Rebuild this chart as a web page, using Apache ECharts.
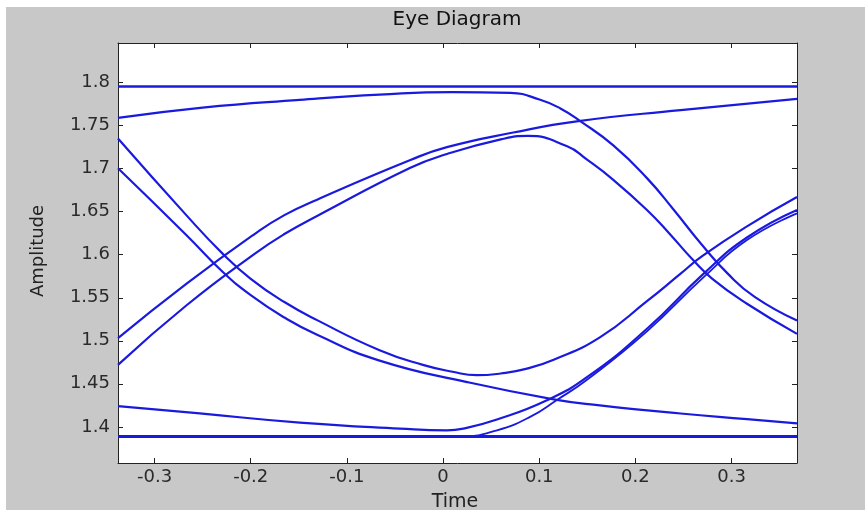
<!DOCTYPE html>
<html>
<head>
<meta charset="utf-8">
<script src="https://cdn.jsdelivr.net/npm/echarts@6/dist/echarts.min.js"></script>
<style>
  html, body { margin: 0; padding: 0; background: #ffffff; }
  #bg { position: absolute; left: 6px; top: 7px; width: 859px; height: 503px; background: #c8c8c8; }
  #chart { position: absolute; left: 0; top: 0; width: 865px; height: 512px; }
</style>
</head>
<body>
<div id="bg"></div>
<div id="chart"></div>
<script>
// ---- data ----
const titleText = 'Eye Diagram';
const xName = 'Time';
const yName = 'Amplitude';
const xTicks = [-0.3, -0.2, -0.1, 0, 0.1, 0.2, 0.3];
const yTicks = [1.4, 1.45, 1.5, 1.55, 1.6, 1.65, 1.7, 1.75, 1.8];
const xRange = [-0.338, 0.368];
const yRange = [1.358, 1.846];

// traces: [time, amplitude]
const topFlat = [[-0.338, 1.7955], [0.368, 1.7955]];
const bottomFlat = [[-0.338, 1.3888], [0.368, 1.3888]];
const highFall = [[-0.338, 1.759], [-0.25, 1.771], [-0.149, 1.780], [-0.066, 1.786], [0.01, 1.789], [0.070, 1.788],
  [0.101, 1.780], [0.122, 1.770], [0.143, 1.755], [0.177, 1.727], [0.212, 1.689], [0.240, 1.652],
  [0.268, 1.613], [0.296, 1.578], [0.324, 1.551], [0.368, 1.5235]];
const riseHigh = [[-0.338, 1.503], [-0.267, 1.566], [-0.196, 1.624], [-0.165, 1.646], [-0.131, 1.664],
  [-0.034, 1.710], [0.004, 1.725], [0.073, 1.742], [0.139, 1.755], [0.247, 1.768], [0.368, 1.781]];
const risePeak = [[-0.338, 1.472], [-0.267, 1.541], [-0.196, 1.601], [-0.165, 1.624], [-0.131, 1.645],
  [-0.034, 1.701], [0.004, 1.717], [0.060, 1.734], [0.088, 1.738], [0.129, 1.726], [0.149, 1.711],
  [0.177, 1.687], [0.212, 1.652], [0.235, 1.625], [0.259, 1.595], [0.280, 1.572], [0.316, 1.543], [0.368, 1.508]];
const fallTrough = [[-0.338, 1.735], [-0.267, 1.646], [-0.229, 1.601], [-0.200, 1.572], [-0.165, 1.545],
  [-0.131, 1.524], [-0.066, 1.489], [-0.021, 1.472], [0.010, 1.464], [0.035, 1.460], [0.060, 1.462],
  [0.085, 1.467], [0.115, 1.478], [0.163, 1.504], [0.212, 1.546], [0.247, 1.578], [0.269, 1.598],
  [0.316, 1.633], [0.368, 1.667]];
const fallLow = [[-0.338, 1.7005], [-0.267, 1.623], [-0.229, 1.580], [-0.200, 1.553], [-0.165, 1.527],
  [-0.131, 1.507], [-0.066, 1.477], [0.025, 1.452], [0.115, 1.432], [0.163, 1.425], [0.247, 1.4155],
  [0.316, 1.409], [0.368, 1.404]];
const lowRise = [[-0.338, 1.424], [-0.253, 1.4156], [-0.149, 1.405], [-0.045, 1.398], [0.004, 1.396],
  [0.021, 1.398], [0.056, 1.4086], [0.108, 1.431], [0.150, 1.458], [0.212, 1.514], [0.271, 1.578],
  [0.316, 1.620], [0.368, 1.652]];
const bottomRise = [[-0.338, 1.3885], [0.0, 1.3885], [0.021, 1.3888], [0.056, 1.396], [0.0905, 1.4116],
  [0.118, 1.431], [0.150, 1.455], [0.212, 1.511], [0.271, 1.574], [0.316, 1.617], [0.368, 1.648]];

const traces = [
  { name: 'topFlat', data: topFlat, w: 2.4 },
  { name: 'bottomFlat', data: bottomFlat, w: 3.2 },
  { name: 'highFall', data: highFall, w: 2.2 },
  { name: 'riseHigh', data: riseHigh, w: 2.2 },
  { name: 'risePeak', data: risePeak, w: 2.2 },
  { name: 'fallTrough', data: fallTrough, w: 2.2 },
  { name: 'fallLow', data: fallLow, w: 2.2 },
  { name: 'lowRise', data: lowRise, w: 2.2 },
  { name: 'bottomRise', data: bottomRise, w: 1.8 }
];

const lineColor = '#1a1ade';
const axisColor = '#222222';
const font = 'DejaVu Sans';

const chart = echarts.init(document.getElementById('chart'), null, { renderer: 'canvas' });

function fmt(v) { return String(Math.round(v * 1000) / 1000); }

const option = {
  backgroundColor: 'transparent',
  animation: false,
  grid: { left: 118, top: 43, right: 68, bottom: 49, show: true, backgroundColor: '#ffffff', borderWidth: 0 },
  xAxis: [
    {
      type: 'value', min: xRange[0], max: xRange[1], position: 'bottom',
      axisLine: { show: true, onZero: false, lineStyle: { color: axisColor, width: 1 } },
      axisTick: { show: true, inside: true, length: 5, customValues: xTicks, lineStyle: { color: axisColor } },
      axisLabel: { show: true, customValues: xTicks, formatter: fmt, margin: 5, color: '#2a2a2a', fontFamily: font, fontSize: 18 },
      splitLine: { show: false }
    },
    {
      type: 'value', min: xRange[0], max: xRange[1], position: 'top',
      axisLine: { show: true, onZero: false, lineStyle: { color: axisColor, width: 1 } },
      axisTick: { show: true, inside: true, length: 5, customValues: xTicks, lineStyle: { color: axisColor } },
      axisLabel: { show: false },
      splitLine: { show: false }
    }
  ],
  yAxis: [
    {
      type: 'value', min: yRange[0], max: yRange[1], position: 'left',
      axisLine: { show: true, onZero: false, lineStyle: { color: axisColor, width: 1 } },
      axisTick: { show: true, inside: true, length: 5, customValues: yTicks, lineStyle: { color: axisColor } },
      axisLabel: { show: true, customValues: yTicks, formatter: fmt, margin: 8, color: '#2a2a2a', fontFamily: font, fontSize: 18 },
      splitLine: { show: false }
    },
    {
      type: 'value', min: yRange[0], max: yRange[1], position: 'right',
      axisLine: { show: true, onZero: false, lineStyle: { color: axisColor, width: 1 } },
      axisTick: { show: true, inside: true, length: 5, customValues: yTicks, lineStyle: { color: axisColor } },
      axisLabel: { show: false },
      splitLine: { show: false }
    }
  ],
  graphic: [
    { type: 'text', x: 457, y: 20, style: { text: titleText, textAlign: 'center', textVerticalAlign: 'middle', font: '20px "' + font + '"', fill: '#111' } },
    { type: 'text', x: 455, y: 502, style: { text: xName, textAlign: 'center', textVerticalAlign: 'middle', font: '19px "' + font + '"', fill: '#222' } },
    { type: 'text', x: 38, y: 251, rotation: Math.PI / 2, style: { text: yName, textAlign: 'center', textVerticalAlign: 'middle', font: '18px "' + font + '"', fill: '#222' } }
  ],
  series: traces.map(t => ({
    name: t.name, type: 'line', xAxisIndex: 0, yAxisIndex: 0,
    data: t.data, showSymbol: false, smooth: true,
    lineStyle: { color: lineColor, width: t.w }, clip: true
  }))
};
chart.setOption(option);
</script>
</body>
</html>
